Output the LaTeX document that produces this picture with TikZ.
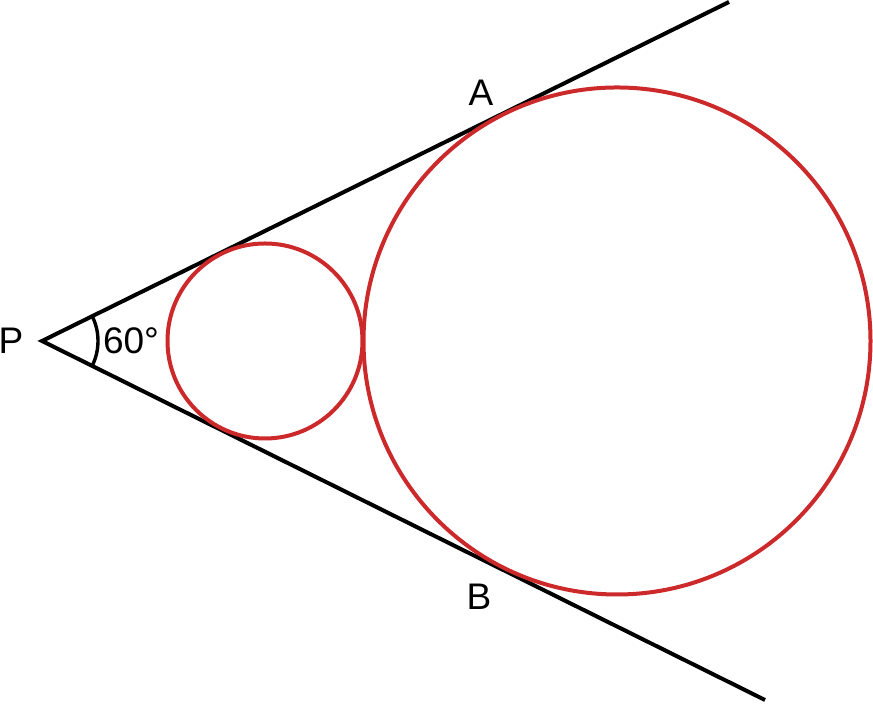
\documentclass[tikz,border=0pt]{standalone}
\usepackage{xcolor}
\usepackage{fontspec}
\setmainfont{Liberation Sans}
\usepackage{tikz}
\usetikzlibrary{calc, positioning}
\definecolor{circlered}{rgb}{0.80, 0.16, 0.17}

\begin{document}
\begin{tikzpicture}[x=0.5pt, y=0.5pt, every node/.style={font=\fontsize{18.5}{22}\selectfont}]
			\useasboundingbox (0,0) rectangle (873,704);
			\coordinate (P) at (42,363);
			\coordinate (U) at (729,702);
			\coordinate (L) at (765,4);
			\draw [line width=2pt] (U) -- (P) -- (L);
			\draw [line width=1.7pt] (P) ++(-26.4:56) arc (-26.4:26.3:56);
			
			\draw [circlered, line width=2pt] (265,363) circle (97.5);
			\draw [circlered, line width=2pt] (617,363) circle (253.5);
			
			\node (p) at (11,363) {P};
			\node (angle) at (131,363) {60°};
			\node (A) at (481,611) {A};
			\node (B) at (479,107) {B};
			\end{tikzpicture}
\end{document}
